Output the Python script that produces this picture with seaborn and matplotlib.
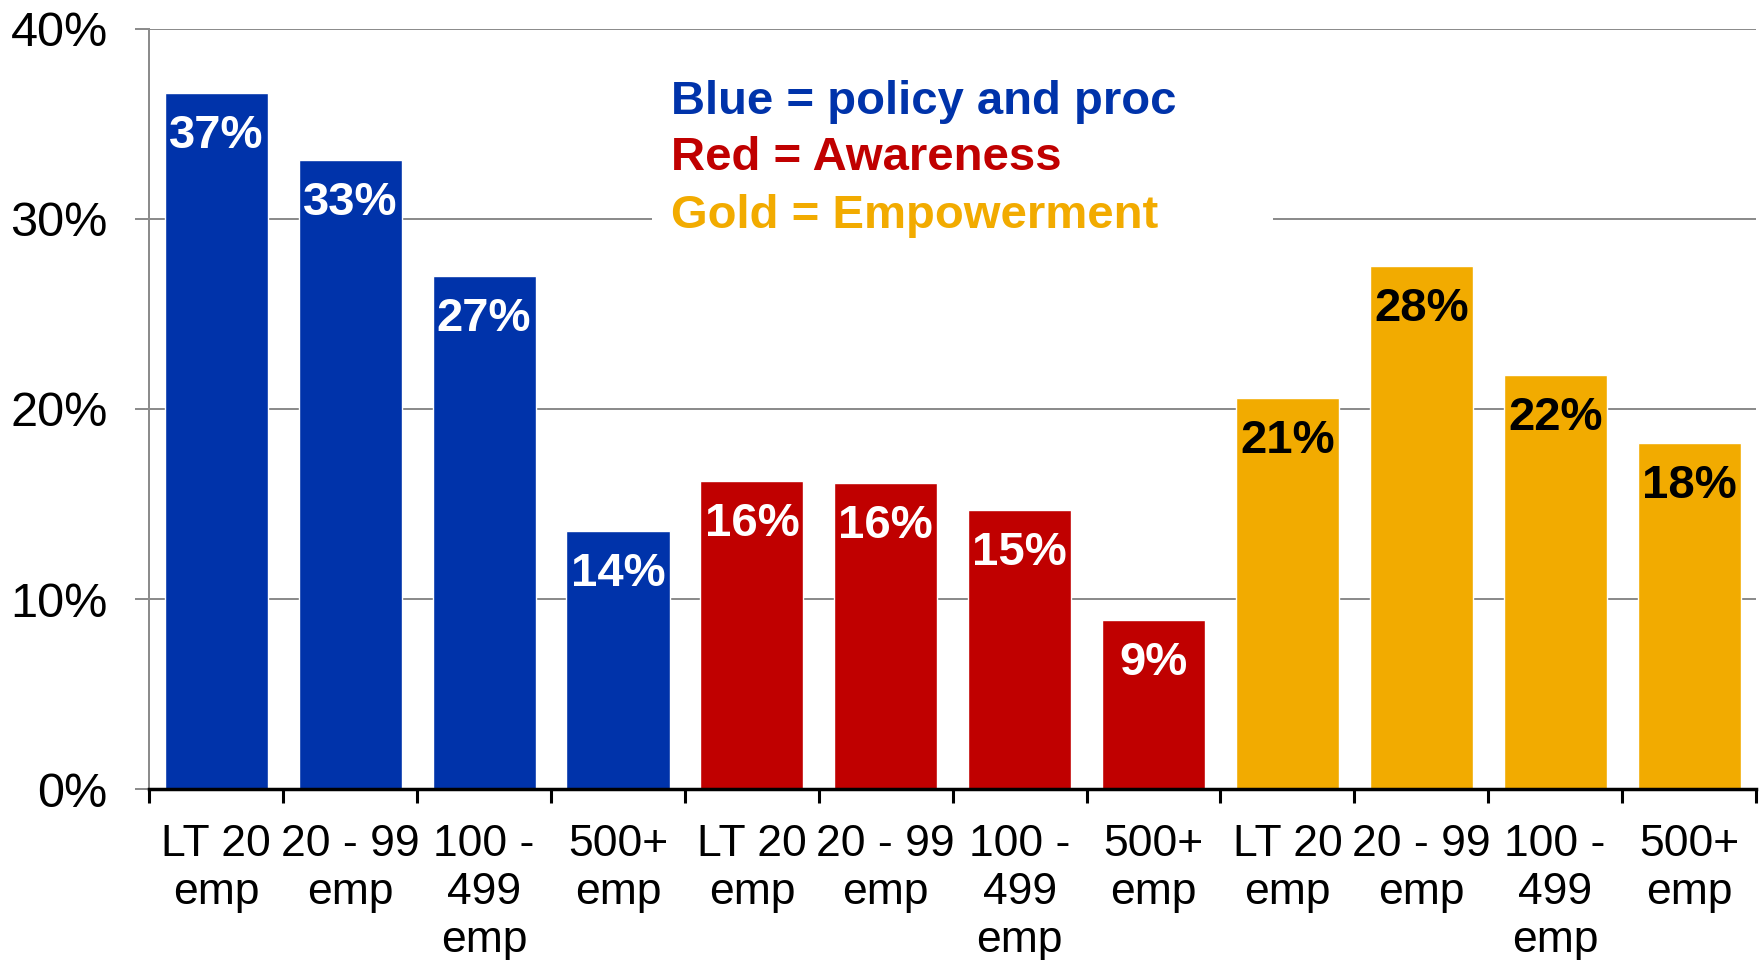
import numpy as np
import pandas as pd
import matplotlib
matplotlib.use("Agg")
import matplotlib.pyplot as plt
import seaborn as sns
from matplotlib.patches import Rectangle

# ---- data ----
groups = ["Blue"] * 4 + ["Red"] * 4 + ["Gold"] * 4
sizes = ["LT 20\nemp", "20 - 99\nemp", "100 -\n499\nemp", "500+\nemp"] * 3
values = [36.6, 33.1, 27.0, 13.6, 16.2, 16.1, 14.7, 8.9, 20.6, 27.5, 21.8, 18.2]
value_labels = ["37%", "33%", "27%", "14%", "16%", "16%", "15%", "9%",
                "21%", "28%", "22%", "18%"]
legend_lines = ["Blue = policy and proc", "Red = Awareness", "Gold = Empowerment"]
yticks = [0, 10, 20, 30, 40]

colors = {"Blue": "#0033AA", "Red": "#C00000", "Gold": "#F2AB00"}
label_colors = {"Blue": "white", "Red": "white", "Gold": "black"}

df = pd.DataFrame({
    "slot": [f"{g}|{s}" for g, s in zip(groups, sizes)],
    "group": groups,
    "value": values,
})

sns.set_style("white")
plt.rcParams["font.family"] = ["Liberation Sans", "DejaVu Sans"]
plt.rcParams["text.color"] = "black"
plt.rcParams["xtick.color"] = "black"
plt.rcParams["ytick.color"] = "black"

fig = plt.figure(figsize=(17.62, 9.6), dpi=100)
ax = fig.add_axes([0.0848, 0.178, 0.9118, 0.792])

sns.barplot(data=df, x="slot", y="value", hue="group", palette=colors,
            dodge=False, width=0.77, saturation=1, legend=False, ax=ax)

ax.set_xlim(-0.5, len(values) - 0.5)
ax.set_ylim(0, 40)
ax.set_xlabel("")
ax.set_ylabel("")

# y axis
ax.set_yticks(yticks)
ax.set_yticklabels([f"{t}%" for t in yticks], fontsize=35, color="black")
ax.tick_params(axis="y", which="major", length=10, width=1.44,
               color="#8C8C8C", labelcolor="black", direction="out", pad=20, left=True)
ax.set_axisbelow(True)
ax.yaxis.grid(True, color="#8C8C8C", lw=1.44)
ax.xaxis.grid(False)

# x axis
ax.set_xticks(range(len(values)))
ax.set_xticklabels(sizes, fontsize=32, linespacing=1.22, color="black")
ax.set_xticks(np.arange(-0.5, len(values), 1), minor=True)
ax.tick_params(axis="x", which="major", length=0, pad=25)
ax.tick_params(axis="x", which="minor", length=10, width=2.2,
               color="black", direction="out", bottom=True)

for side in ["top", "right"]:
    ax.spines[side].set_visible(False)
ax.spines["left"].set_color("#8C8C8C")
ax.spines["left"].set_linewidth(1.44)
ax.spines["bottom"].set_color("black")
ax.spines["bottom"].set_linewidth(2.5)

# value labels
for i, (v, g, lab) in enumerate(zip(values, groups, value_labels)):
    ax.annotate(lab, xy=(i, v), xytext=(0, -31), textcoords="offset points",
                ha="center", va="center", fontsize=34, fontweight="bold",
                color=label_colors[g], zorder=5)

# legend text box (white background hides gridline)
ax.add_patch(Rectangle((0.3128, 0.7158), 0.3865, 0.2368, transform=ax.transAxes,
                       facecolor="white", edgecolor="none", zorder=1.2))
for k, (line, g) in enumerate(zip(legend_lines, ["Blue", "Red", "Gold"])):
    fig.text(671 / 1762, 1 - (113.5 + 57 * k) / 960, line, ha="left",
             va="baseline", fontsize=34, fontweight="bold", color=colors[g],
             zorder=6)

fig.savefig("out.png", dpi=100)
